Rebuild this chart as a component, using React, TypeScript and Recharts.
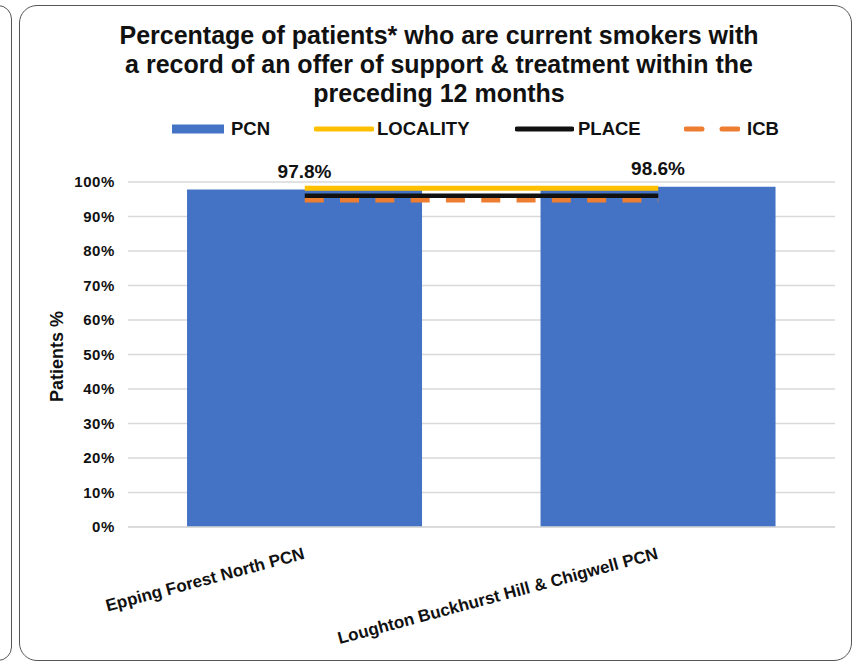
import React from 'react';
import {
  ComposedChart,
  Bar,
  Line,
  XAxis,
  YAxis,
  CartesianGrid,
  LabelList,
  Label,
} from 'recharts';

const categories = ['Epping Forest North PCN', 'Loughton Buckhurst Hill & Chigwell PCN'];
const pcnValues = [97.8, 98.6];
const localityValues = [98.2, 98.2];
const placeValues = [96.0, 96.0];
const icbValues = [94.7, 94.7];
const yTicks = [0, 10, 20, 30, 40, 50, 60, 70, 80, 90, 100];

const titleLines = [
  'Percentage of patients* who are current smokers with',
  'a record of an offer of support & treatment within the',
  'preceding 12 months',
];

const FONT = '"Liberation Sans", Arial, sans-serif';
const BLUE = '#4472C4';
const YELLOW = '#FFC000';
const BLACK = '#111111';
const ORANGE = '#ED7D31';

const data = categories.map((name, i) => ({
  name,
  pcn: pcnValues[i],
  locality: localityValues[i],
  place: placeValues[i],
  icb: icbValues[i],
}));

function XTick({ x, y, payload }: any) {
  return (
    <g transform={`translate(${x - 3},${y + 10})`}>
      <text
        textAnchor="end"
        transform="rotate(-15)"
        dy={14}
        fontFamily={FONT}
        fontWeight="bold"
        fontSize={17}
        fill="#111"
      >
        {payload.value}
      </text>
    </g>
  );
}

// legend swatch + text, placed by left edge
function LegendItem({ left, textLeft, width, label, kind, color }: any) {
  return (
    <>
      <svg
        width={width}
        height={12}
        style={{ position: 'absolute', left, top: 123 }}
      >
        {kind === 'rect' && <rect x={0} y={1.5} width={width} height={9} fill={color} />}
        {kind === 'line' && (
          <line x1={2} y1={6} x2={width - 2} y2={6} stroke={color} strokeWidth={5} strokeLinecap="round" />
        )}
        {kind === 'dash' && (
          <line x1={2} y1={6} x2={width} y2={6} stroke={color} strokeWidth={5} strokeDasharray="16 20" strokeLinecap="round" />
        )}
      </svg>
      <span
        style={{
          position: 'absolute',
          left: textLeft,
          top: 118,
          fontFamily: FONT,
          fontWeight: 'bold',
          fontSize: 18.5,
          lineHeight: '22px',
          color: '#111',
        }}
      >
        {label}
      </span>
    </>
  );
}

export default function App() {
  return (
    <div
      style={{
        position: 'fixed',
        left: 0,
        top: 0,
        width: 854,
        height: 663,
        background: '#fff',
        overflow: 'hidden',
      }}
    >
      {/* neighbouring panel edge */}
      <div
        style={{
          position: 'absolute',
          left: -40,
          top: 5,
          width: 50,
          height: 654,
          border: '1.5px solid #555',
          borderRadius: 14,
        }}
      />
      <div
        style={{
          position: 'absolute',
          left: 19,
          top: 5,
          width: 831,
          height: 654,
          border: '1.5px solid #555',
          borderRadius: 18,
        }}
      />
      <div
        style={{
          position: 'absolute',
          left: 24,
          top: 21,
          width: 830,
          textAlign: 'center',
          fontFamily: FONT,
          fontWeight: 'bold',
          fontSize: 25,
          lineHeight: '29px',
          color: '#111',
        }}
      >
        {titleLines.map((t) => (
          <div key={t}>{t}</div>
        ))}
      </div>
      <LegendItem left={172} textLeft={231} width={52} label="PCN" kind="rect" color={BLUE} />
      <LegendItem left={314} textLeft={377} width={60} label="LOCALITY" kind="line" color={YELLOW} />
      <LegendItem left={515} textLeft={578} width={59} label="PLACE" kind="line" color={BLACK} />
      <LegendItem left={684} textLeft={747} width={56} label="ICB" kind="dash" color={ORANGE} />
      <div style={{ position: 'absolute', left: 0, top: 0 }}>
        <ComposedChart
          width={854}
          height={663}
          data={data}
          margin={{ top: 182, right: 19, bottom: 16, left: 0 }}
          barCategoryGap="16.7%"
        >
          <CartesianGrid vertical={false} stroke="#d9d9d9" strokeWidth={1.5} />
          <XAxis
            dataKey="name"
            height={120}
            tick={<XTick />}
            tickLine={false}
            axisLine={{ stroke: '#d9d9d9', strokeWidth: 1.5 }}
            interval={0}
          />
          <YAxis
            width={128}
            domain={[0, 100]}
            ticks={yTicks}
            tickFormatter={(v) => `${v}%`}
            axisLine={false}
            tickLine={false}
            tickSize={0}
            tickMargin={13}
            tick={{ fontFamily: FONT, fontWeight: 'bold', fontSize: 15, fill: '#111', letterSpacing: 0.6 }}
          >
            <Label
              content={({ viewBox }: any) => {
                const cx = viewBox.x + 57;
                const cy = viewBox.y + viewBox.height / 2 + 2;
                return (
                  <text
                    x={cx}
                    y={cy}
                    transform={`rotate(-90 ${cx} ${cy})`}
                    textAnchor="middle"
                    dominantBaseline="central"
                    fontFamily={FONT}
                    fontWeight="bold"
                    fontSize={18}
                    fill="#111"
                  >
                    Patients %
                  </text>
                );
              }}
            />
          </YAxis>
          <Bar dataKey="pcn" fill={BLUE} isAnimationActive={false}>
            <LabelList
              dataKey="pcn"
              position="top"
              offset={12}
              formatter={(v: any) => `${Number(v).toFixed(1)}%`}
              style={{ fontFamily: FONT, fontWeight: 'bold', fontSize: 19, fill: '#111' }}
            />
          </Bar>
          <Line
            dataKey="locality"
            stroke={YELLOW}
            strokeWidth={5}
            dot={false}
            activeDot={false}
            isAnimationActive={false}
          />
          <Line
            dataKey="place"
            stroke={BLACK}
            strokeWidth={4.5}
            dot={false}
            activeDot={false}
            isAnimationActive={false}
          />
          <Line
            dataKey="icb"
            stroke={ORANGE}
            strokeWidth={4.5}
            strokeDasharray="19 16.3"
            dot={false}
            activeDot={false}
            isAnimationActive={false}
          />
        </ComposedChart>
      </div>
    </div>
  );
}
